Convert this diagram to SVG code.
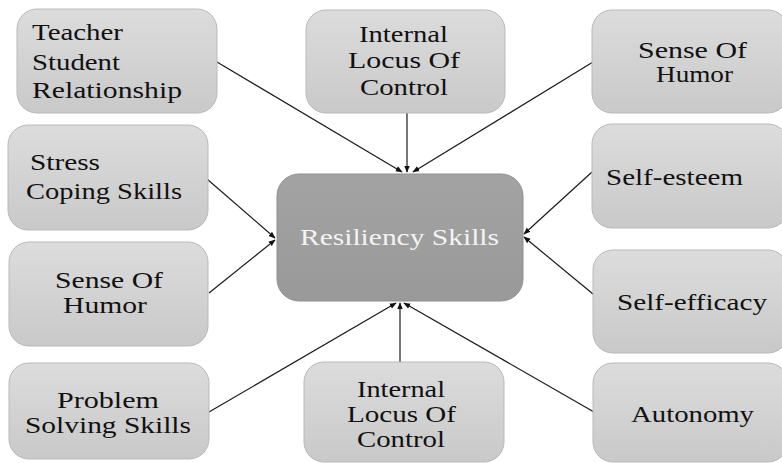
<svg xmlns="http://www.w3.org/2000/svg" width="782" height="463" viewBox="0 0 782 463">
  <defs>
    <linearGradient id="boxFill" x1="0" y1="0" x2="0" y2="1">
      <stop offset="0" stop-color="#dcdcdc"/>
      <stop offset="1" stop-color="#c9c9c9"/>
    </linearGradient>
    <linearGradient id="hubFill" x1="0" y1="0" x2="0" y2="1">
      <stop offset="0" stop-color="#a3a3a3"/>
      <stop offset="1" stop-color="#999999"/>
    </linearGradient>
    <marker id="arrow" viewBox="0 0 10 10" refX="9" refY="5" markerWidth="7" markerHeight="7" markerUnits="userSpaceOnUse" orient="auto">
      <path d="M0,1 L10,5 L0,9 Z" fill="#111"/>
    </marker>
  </defs>
  <style>
    .box { fill: url(#boxFill); stroke: #b9b9b9; stroke-width: 1; }
    .hub { fill: url(#hubFill); stroke: #8f8f8f; stroke-width: 1; }
    .lbl { font-family: "Liberation Serif", "Times New Roman", serif; font-size: 24px; fill: #111; }
    .hubLbl { font-family: "Liberation Serif", "Times New Roman", serif; font-size: 24px; fill: #f4f4f4; }
    .link { stroke: #1a1a1a; stroke-width: 1.2; fill: none; marker-end: url(#arrow); }
  </style>

  <rect width="782" height="463" fill="#ffffff"/>

  <g id="connectors">
    <line class="link" x1="217" y1="62" x2="402" y2="172"/>
    <line class="link" x1="407" y1="113" x2="407" y2="172"/>
    <line class="link" x1="593" y1="62" x2="413" y2="172"/>
    <line class="link" x1="207" y1="179" x2="275" y2="238"/>
    <line class="link" x1="209" y1="293" x2="275" y2="240"/>
    <line class="link" x1="592" y1="172" x2="524" y2="234"/>
    <line class="link" x1="593" y1="294" x2="524" y2="237"/>
    <line class="link" x1="209" y1="412" x2="396" y2="303"/>
    <line class="link" x1="400" y1="362" x2="400" y2="303"/>
    <line class="link" x1="594" y1="412" x2="404" y2="303"/>
  </g>

  <g id="teacher-student-relationship">
    <rect class="box" x="17" y="9" width="200" height="104" rx="20"/>
    <text class="lbl" x="32" y="40" textLength="91" lengthAdjust="spacingAndGlyphs">Teacher</text>
    <text class="lbl" x="32" y="70" textLength="88" lengthAdjust="spacingAndGlyphs">Student</text>
    <text class="lbl" x="32" y="98" textLength="150" lengthAdjust="spacingAndGlyphs">Relationship</text>
  </g>

  <g id="stress-coping-skills">
    <rect class="box" x="8" y="125" width="200" height="105" rx="20"/>
    <text class="lbl" x="30" y="170" textLength="70" lengthAdjust="spacingAndGlyphs">Stress</text>
    <text class="lbl" x="26" y="199" textLength="156" lengthAdjust="spacingAndGlyphs">Coping Skills</text>
  </g>

  <g id="internal-locus-top">
    <rect class="box" x="306" y="10" width="199" height="103" rx="20"/>
    <text class="lbl" x="359" y="42" textLength="89" lengthAdjust="spacingAndGlyphs">Internal</text>
    <text class="lbl" x="348" y="68" textLength="112" lengthAdjust="spacingAndGlyphs">Locus Of</text>
    <text class="lbl" x="360" y="95" textLength="88" lengthAdjust="spacingAndGlyphs">Control</text>
  </g>

  <g id="sense-of-humor-right">
    <rect class="box" x="592" y="10" width="196" height="103" rx="20"/>
    <text class="lbl" x="638" y="58" textLength="109" lengthAdjust="spacingAndGlyphs">Sense Of</text>
    <text class="lbl" x="656" y="82" textLength="77" lengthAdjust="spacingAndGlyphs">Humor</text>
  </g>

  <g id="self-esteem">
    <rect class="box" x="592" y="124" width="196" height="104" rx="20"/>
    <text class="lbl" x="606" y="185" textLength="137" lengthAdjust="spacingAndGlyphs">Self-esteem</text>
  </g>

  <g id="resiliency-skills">
    <rect class="hub" x="277" y="174" width="246" height="127" rx="22"/>
    <text class="hubLbl" x="300" y="245" textLength="199" lengthAdjust="spacingAndGlyphs">Resiliency  Skills</text>
  </g>

  <g id="sense-of-humor-left">
    <rect class="box" x="9" y="242" width="199" height="104" rx="20"/>
    <text class="lbl" x="55" y="288" textLength="108" lengthAdjust="spacingAndGlyphs">Sense Of</text>
    <text class="lbl" x="63" y="313" textLength="84" lengthAdjust="spacingAndGlyphs">Humor</text>
  </g>

  <g id="self-efficacy">
    <rect class="box" x="593" y="250" width="195" height="103" rx="20"/>
    <text class="lbl" x="617" y="310" textLength="150" lengthAdjust="spacingAndGlyphs">Self-efficacy</text>
  </g>

  <g id="problem-solving-skills">
    <rect class="box" x="9" y="363" width="200" height="96" rx="20"/>
    <text class="lbl" x="57" y="408" textLength="102" lengthAdjust="spacingAndGlyphs">Problem</text>
    <text class="lbl" x="25" y="433" textLength="166" lengthAdjust="spacingAndGlyphs">Solving Skills</text>
  </g>

  <g id="internal-locus-bottom">
    <rect class="box" x="304" y="362" width="200" height="100" rx="20"/>
    <text class="lbl" x="357" y="397" textLength="88" lengthAdjust="spacingAndGlyphs">Internal</text>
    <text class="lbl" x="347" y="422" textLength="109" lengthAdjust="spacingAndGlyphs">Locus Of</text>
    <text class="lbl" x="357" y="447" textLength="88" lengthAdjust="spacingAndGlyphs">Control</text>
  </g>

  <g id="autonomy">
    <rect class="box" x="593" y="363" width="195" height="99" rx="20"/>
    <text class="lbl" x="631" y="422" textLength="123" lengthAdjust="spacingAndGlyphs">Autonomy</text>
  </g>
</svg>
